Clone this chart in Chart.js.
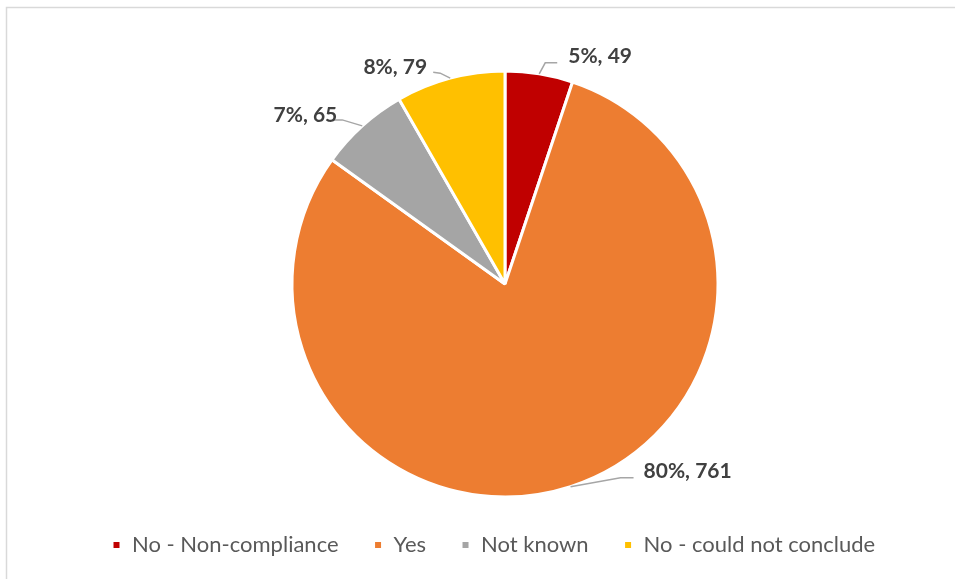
<!DOCTYPE html>
<html>
<head>
<meta charset="utf-8">
<script src="https://cdn.jsdelivr.net/npm/chart.js@4"></script>
<style>
  html, body { margin: 0; padding: 0; background: #fff; }
  #wrap { width: 955px; height: 579px; position: relative; }
</style>
</head>
<body>
<div id="wrap"><canvas id="pieChart"></canvas></div>
<script>
const categories = ["No - Non-compliance", "Yes", "Not known", "No - could not conclude"];
const counts = [49, 761, 65, 79];
const colors = ["#C00000", "#ED7D31", "#A5A5A5", "#FFC000"];

// where each data label sits, relative to the slice's outer edge point
const labelLayout = [
  { elbow: [6, -11], end: [18, -11], text: [29, -18], align: "left" },
  { elbow: [50, -9], end: [63, -9], text: [73, -15], align: "left" },
  { elbow: [-20, -6], end: [-29, -6], text: [-25, -11], align: "right" },
  { elbow: [-10, -5], end: [-17, -6], text: [-23, -11], align: "right" },
];

const framePlugin = {
  id: "frame",
  beforeDraw(chart) {
    const ctx = chart.ctx;
    ctx.save();
    ctx.strokeStyle = "#D9D9D9";
    ctx.lineWidth = 1.5;
    ctx.beginPath();
    ctx.moveTo(6.5, 579);
    ctx.lineTo(6.5, 7.5);
    ctx.lineTo(955, 7.5);
    ctx.stroke();
    ctx.restore();
  }
};

const labelPlugin = {
  id: "pieLabels",
  afterDatasetsDraw(chart) {
    const ctx = chart.ctx;
    const meta = chart.getDatasetMeta(0);
    const total = counts.reduce((a, b) => a + b, 0);
    ctx.save();
    meta.data.forEach((arc, i) => {
      const p = arc.getProps(["x", "y", "startAngle", "endAngle", "outerRadius"], true);
      const mid = (p.startAngle + p.endAngle) / 2;
      const ex = p.x + Math.cos(mid) * p.outerRadius;
      const ey = p.y + Math.sin(mid) * p.outerRadius;
      const lay = labelLayout[i];
      ctx.strokeStyle = "#A6A6A6";
      ctx.lineWidth = 1.5;
      ctx.beginPath();
      ctx.moveTo(ex, ey);
      ctx.lineTo(ex + lay.elbow[0], ey + lay.elbow[1]);
      ctx.lineTo(ex + lay.end[0], ey + lay.end[1]);
      ctx.stroke();
      const pct = Math.round(counts[i] / total * 100);
      ctx.fillStyle = "#404040";
      ctx.font = "bold 21px Lato";
      ctx.textAlign = lay.align;
      ctx.textBaseline = "middle";
      ctx.fillText(`${pct}%, ${counts[i]}`, ex + lay.text[0], ey + lay.text[1]);
    });
    ctx.restore();
  }
};

function createPieChart() {
  const data = {
    labels: categories,
    datasets: [
      {
        data: counts,
        backgroundColor: colors,
        borderColor: "#FFFFFF",
        borderWidth: 3,
        radius: 213,
      },
    ],
  };

  const config = {
    type: "pie",
    data: data,
    options: {
      responsive: true,
      maintainAspectRatio: false,
      animation: false,
      layout: { padding: { top: 69, left: 77, right: 22, bottom: 20 } },
      plugins: {
        legend: {
          position: "bottom",
          align: "start",
          maxHeight: 60,
          labels: {
            boxWidth: 9,
            boxHeight: 9,
            padding: 35,
            color: "#595959",
            font: { family: "Lato", size: 22 },
          },
        },
        tooltip: { enabled: false },
      },
    },
    plugins: [framePlugin, labelPlugin],
  };

  const ctx = document.getElementById("pieChart");
  new Chart(ctx, config);
}

document.addEventListener("DOMContentLoaded", () => {
  createPieChart()
});
</script>
</body>
</html>
